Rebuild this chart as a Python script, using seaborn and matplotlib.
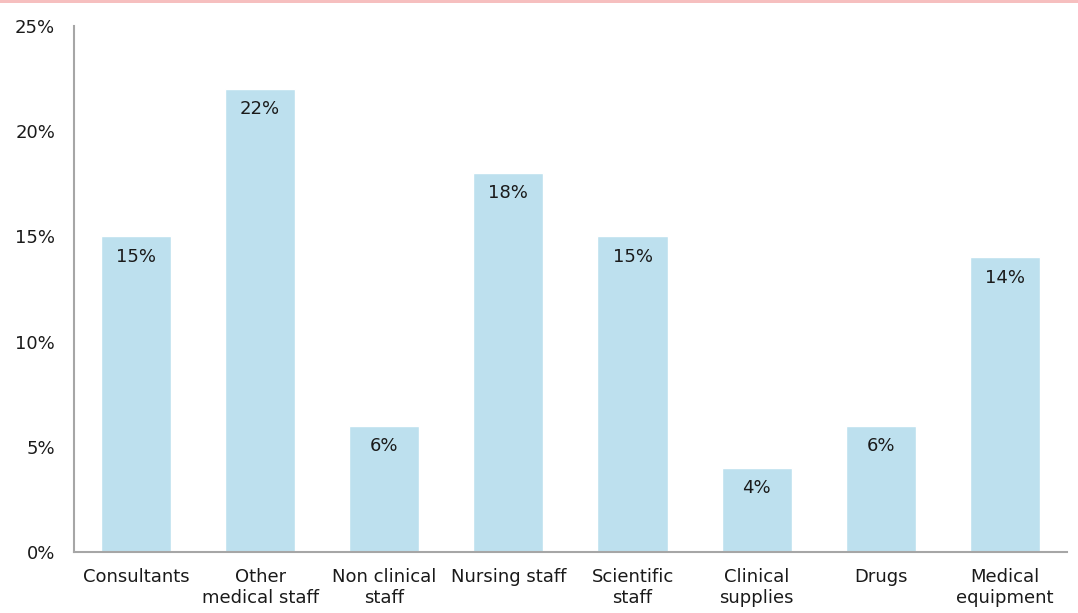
import matplotlib
matplotlib.use("Agg")
import matplotlib.pyplot as plt
from matplotlib.patches import Rectangle
import seaborn as sns
import pandas as pd

categories = ["Consultants", "Other\nmedical staff", "Non clinical\nstaff", "Nursing staff",
              "Scientific\nstaff", "Clinical\nsupplies", "Drugs", "Medical\nequipment"]
values = [15, 22, 6, 18, 15, 4, 6, 14]
yticks = [0, 5, 10, 15, 20, 25]
ytick_labels = ["0%", "5%", "10%", "15%", "20%", "25%"]

sns.set_theme(style="white")
plt.rcParams['font.family'] = ['DejaVu Sans']

df = pd.DataFrame({"cat": categories, "val": values})

fig = plt.figure(figsize=(10.78, 6.13), dpi=100)
ax = fig.add_axes([0.0686, 0.0995, 0.9212, 0.8581])
sns.barplot(data=df, x="cat", y="val", color="#BDE0EE", saturation=1, width=0.565, ax=ax)

FS = 13
for i, v in enumerate(values):
    ax.annotate(f"{v}%", xy=(i, v), xytext=(0, -14.5), textcoords="offset points",
                ha="center", va="center", fontsize=FS, color="#1a1a1a")

ax.set_xlim(-0.5, 7.5)
ax.set_ylim(0, 25)
ax.set_yticks(yticks)
ax.set_yticklabels(ytick_labels, fontsize=FS, color="#1a1a1a")
ax.tick_params(axis="x", labelsize=FS, colors="#1a1a1a", length=0, pad=11.5)
ax.tick_params(axis="y", length=0, pad=13.5)
ax.set_xlabel("")
ax.set_ylabel("")
for s in ["top", "right"]:
    ax.spines[s].set_visible(False)
for s in ["left", "bottom"]:
    ax.spines[s].set_color("#A6A6A6")
    ax.spines[s].set_linewidth(1.5)
for lbl in ax.get_xticklabels():
    lbl.set_linespacing(1.2)

# thin pink border line at the very top of the image
fig.patches.append(Rectangle((0, 1 - 2.5 / 613), 1, 2.5 / 613, transform=fig.transFigure,
                             facecolor="#F6BFBF", edgecolor="none"))

fig.savefig("out.png", dpi=100)
